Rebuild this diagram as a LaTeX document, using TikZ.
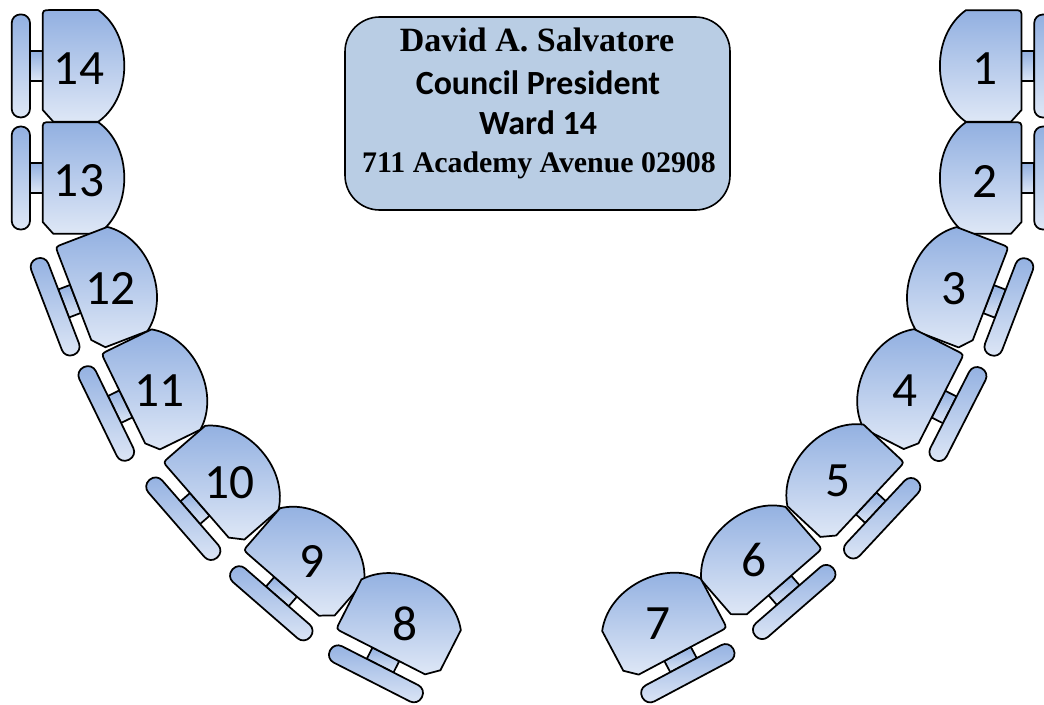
\documentclass[tikz,border=0pt]{standalone}
\usepackage{fontspec}
\setmainfont{Liberation Serif}
\newfontfamily\calibri{Carlito}
\usetikzlibrary{positioning}
\definecolor{seattop}{RGB}{146,176,225}
\definecolor{seatbottom}{RGB}{222,231,246}
\definecolor{boxfill}{RGB}{185,205,228}

\tikzset{
  chairpart/.style={draw=black, line width=1.3pt, line join=round, top color=seattop, bottom color=seatbottom},
  seatnum/.style={font=\calibri\fontsize{37}{40}\selectfont, inner sep=0pt},
  titlebox/.style={draw=black, line width=1.2pt, fill=boxfill, rounded corners=26pt,
    minimum width=288.75pt, minimum height=144.75pt},
  serifline/.style={anchor=base, inner sep=0pt, font=\bfseries\fontsize{#1}{#1}\selectfont},
  sansline/.style={anchor=base, inner sep=0pt, font=\calibri\bfseries\fontsize{#1}{#1}\selectfont}
}

% one chair, seat centre at the origin, front towards +x
\newcommand{\drawchair}[1]{%
  \path[chairpart] (-53.5,15) rectangle (-40.8,-15);
  \path[chairpart, rounded corners=6.5pt] (-71.8,51.5) rectangle (-53.5,-51.5);
  \path[chairpart] (-40.8,48) .. controls (-40.8,55.8) .. (-33,55.8) -- (14.8,55.8)
    .. controls (30,45) and (40.8,25) .. (40.8,0)
    .. controls (40.8,-25) and (30,-45) .. (14.8,-55.8)
    -- (-30.2,-55.8) -- (-40.8,-44) -- cycle;
  \node[seatnum] (seat#1) at (-4.5,-3) {#1};
}

\begin{document}
\begin{tikzpicture}[x=0.75pt, y=0.75pt]
  \useasboundingbox (0,0) rectangle (1044,-704);
  \clip (0,0) rectangle (1044,-704);

  % left row
  \foreach \n/\x/\y/\a in {14/83.5/65.9/0, 13/83.5/178/0, 12/113.6/284.3/21,
      11/162.6/386/26, 10/230.6/477.6/41, 9/312.4/556/49, 8/404.4/618/63}
  {
    \begin{scope}[shift={(\x,-\y)}, rotate=\a]
      \drawchair{\n}
    \end{scope}
  }

  % right row
  \foreach \n/\x/\y/\a in {1/980.7/66/0, 2/980.7/178/0, 3/950.4/284.5/21,
      4/902.1/385.6/27, 5/836.3/475.5/43, 6/753.1/554.7/49, 7/658.4/617.9/62}
  {
    \begin{scope}[shift={(\x,-\y)}, rotate=-\a, xscale=-1]
      \drawchair{\n}
    \end{scope}
  }

  % speaker
  \node[titlebox] (speaker) at (537.5,-113.5) {};
  \node[serifline=25.5pt] (name) at (537,-51.7) {David A. Salvatore};
  \node[sansline=25.4pt] (office) at (538,-94) {Council President};
  \node[sansline=25.4pt] (ward) at (538,-134) {Ward 14};
  \node[serifline=22.4pt] (address) at (539,-172.3) {711 Academy Avenue 02908};
\end{tikzpicture}
\end{document}
